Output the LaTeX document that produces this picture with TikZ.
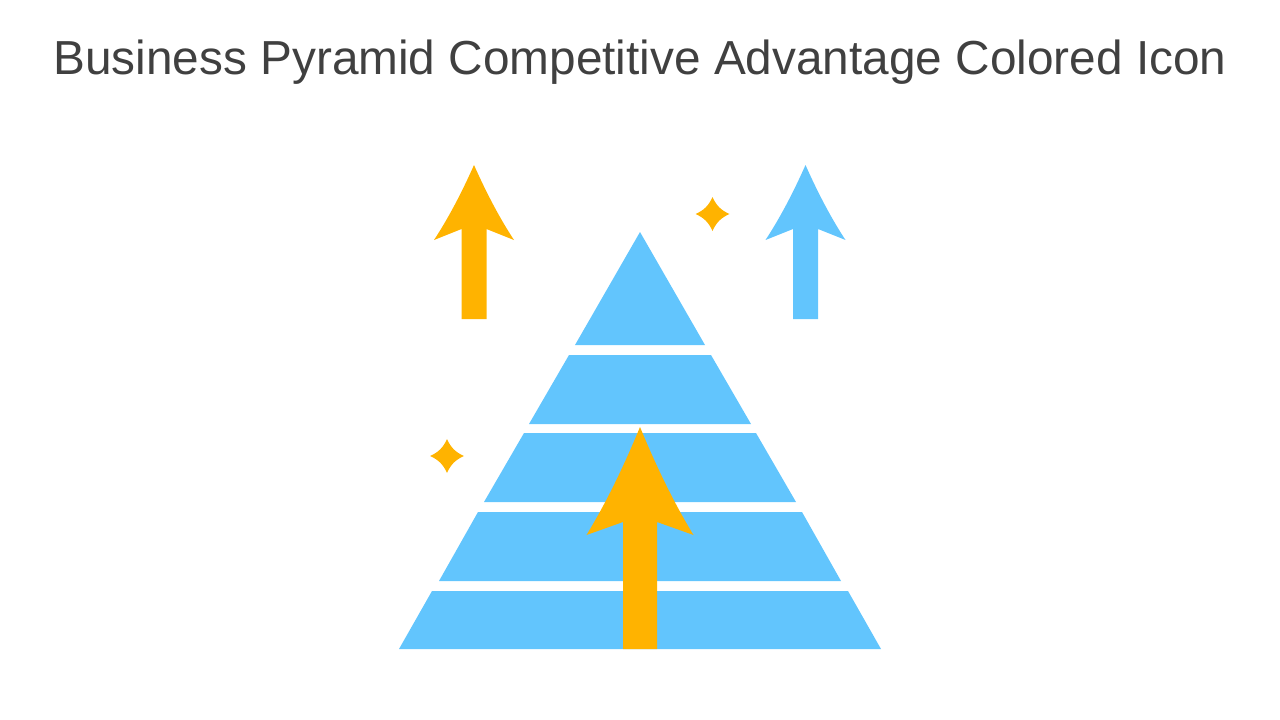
\documentclass[tikz,border=0pt]{standalone}
\usepackage{fontspec}
\setmainfont{Liberation Sans}
\definecolor{tierblue}{HTML}{62C5FD}
\definecolor{upamber}{HTML}{FFB300}
\definecolor{titlegrey}{HTML}{404040}
\tikzset{
  tier/.style={fill=tierblue},
  upamberfill/.style={fill=upamber},
  titletext/.style={text=titlegrey,inner sep=0,font=\fontsize{47.75}{52}\selectfont}
}
% up arrow: tip x, tip y, half wing, wing drop, notch drop, half shaft, bottom y
\newcommand{\uparrowshape}[8]{
  \fill[#8] (#1,#2) .. controls ({#1-0.35*#3},{#2+0.42*#4}) and ({#1-0.68*#3},{#2+0.74*#4}) .. ({#1-#3},{#2+#4})
    -- ({#1-#6},{#2+#5}) -- ({#1-#6},#7) -- ({#1+#6},#7) -- ({#1+#6},{#2+#5}) -- ({#1+#3},{#2+#4})
    .. controls ({#1+0.68*#3},{#2+0.74*#4}) and ({#1+0.35*#3},{#2+0.42*#4}) .. (#1,#2) -- cycle;
}
% four point star: centre x, centre y, radius
\newcommand{\sparkle}[3]{
  \fill[upamberfill] ({#1-#3},#2) .. controls ({#1-0.5*#3},{#2-0.22*#3}) and ({#1-0.22*#3},{#2-0.5*#3}) .. (#1,{#2-#3})
    .. controls ({#1+0.22*#3},{#2-0.5*#3}) and ({#1+0.5*#3},{#2-0.22*#3}) .. ({#1+#3},#2)
    .. controls ({#1+0.5*#3},{#2+0.22*#3}) and ({#1+0.22*#3},{#2+0.5*#3}) .. (#1,{#2+#3})
    .. controls ({#1-0.22*#3},{#2+0.5*#3}) and ({#1-0.5*#3},{#2+0.22*#3}) .. ({#1-#3},#2) -- cycle;
}
\begin{document}
\begin{tikzpicture}[x=1pt,y=-1pt]
  \useasboundingbox (0,0) rectangle (1280,720);

  % Place title
  \node [titletext,anchor=center] (title) at (640,62) {Business Pyramid Competitive Advantage Colored Icon};

  % pyramid
  \fill [tier] (640,232) -- (705,345) -- (575,345) -- cycle;
  \foreach \ytop/\ybot/\xtop/\xbot in {355/424/71/111, 433/502/116/156, 512/581/162/201, 591/649/208/241}
    \fill [tier] ({640-\xtop},\ytop) -- ({640+\xtop},\ytop) -- ({640+\xbot},\ybot) -- ({640-\xbot},\ybot) -- cycle;

  % arrows
  \uparrowshape{474}{165}{40}{75}{64}{12.5}{319}{upamberfill}
  \uparrowshape{805.5}{165}{40}{75}{64}{12.5}{319}{tier}
  \uparrowshape{640}{427}{53.5}{108}{95}{17}{649}{upamberfill}

  % stars
  \sparkle{712.5}{214}{17}
  \sparkle{447}{456}{17}
\end{tikzpicture}
\end{document}
